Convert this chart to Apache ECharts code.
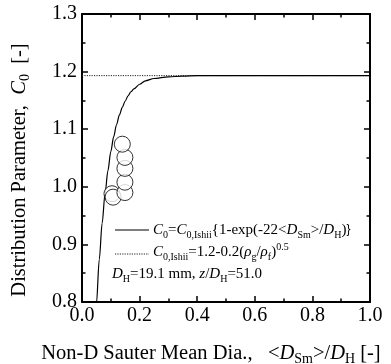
<!DOCTYPE html>
<html>
<head>
<meta charset="utf-8">
<script src="https://cdn.jsdelivr.net/npm/echarts@6/dist/echarts.min.js"></script>
<style>
  html, body { margin: 0; padding: 0; background: #fff; }
  #chart { width: 391px; height: 364px; }
</style>
</head>
<body>
<div id="chart"></div>
<script>
// Drift-flux correlation C0 = C0,Ishii {1 - exp(-22 <DSm>/DH)}
const corrX  = [0.04, 0.05, 0.06, 0.07, 0.08, 0.09, 0.10, 0.11, 0.12, 0.13, 0.14, 0.15, 0.16, 0.17, 0.18, 0.20, 0.22, 0.25, 0.30, 0.35, 0.40, 0.50, 1.00];
const corrC0 = [0.698, 0.796, 0.874, 0.937, 0.988, 1.028, 1.061, 1.087, 1.108, 1.125, 1.138, 1.149, 1.158, 1.165, 1.170, 1.178, 1.184, 1.188, 1.191, 1.192, 1.193, 1.193, 1.193];

// Ishii's constant distribution parameter
const ishiiX  = [0.0, 1.0];
const ishiiC0 = [1.193, 1.193];

// Measured points
const measX  = [0.104, 0.108, 0.149, 0.149, 0.149, 0.149, 0.140];
const measC0 = [0.988, 0.982, 0.990, 1.008, 1.032, 1.051, 1.074];

const serif = '"Liberation Serif", "Times New Roman", serif';

const zip = (xs, ys) => xs.map((x, i) => [x, ys[i]]);

const rich = (size) => ({
  i:   { fontFamily: serif, fontSize: size, fontStyle: 'italic', color: '#000', lineHeight: size + 5 },
  r:   { fontFamily: serif, fontSize: size, color: '#000', lineHeight: size + 5 },
  sub: { fontFamily: serif, fontSize: Math.round(size * 0.66), color: '#000', verticalAlign: 'bottom', lineHeight: Math.round(size * 0.66) },
  sup: { fontFamily: serif, fontSize: Math.round(size * 0.66), color: '#000', verticalAlign: 'top', lineHeight: Math.round(size * 0.66) }
});

const axisCommon = {
  type: 'value',
  axisLine: { show: true, onZero: false, lineStyle: { color: '#000', width: 2 } },
  axisTick: { show: true, inside: true, length: 6, lineStyle: { color: '#000', width: 1.5 } },
  minorTick: { show: true, splitNumber: 2, length: 3.5, lineStyle: { color: '#000', width: 1.5 } },
  splitLine: { show: false },
  minorSplitLine: { show: false }
};

const chart = echarts.init(document.getElementById('chart'), null, { renderer: 'canvas' });

chart.setOption({
  backgroundColor: '#fff',
  animation: false,
  grid: { left: 82, right: 21, top: 14, bottom: 62, containLabel: false },
  xAxis: [
    Object.assign({}, axisCommon, {
      min: 0, max: 1, interval: 0.2, position: 'bottom',
      axisLabel: { fontFamily: serif, fontSize: 20, color: '#000', margin: 4, formatter: v => v.toFixed(1) }
    }),
    Object.assign({}, axisCommon, {
      min: 0, max: 1, interval: 0.2, position: 'top',
      axisLabel: { show: false }
    })
  ],
  yAxis: [
    Object.assign({}, axisCommon, {
      min: 0.8, max: 1.3, interval: 0.1, position: 'left',
      axisLabel: { fontFamily: serif, fontSize: 20, color: '#000', margin: 5, formatter: v => v.toFixed(1) }
    }),
    Object.assign({}, axisCommon, {
      min: 0.8, max: 1.3, interval: 0.1, position: 'right',
      axisLabel: { show: false }
    })
  ],
  series: [
    {
      type: 'line',
      data: zip(ishiiX, ishiiC0),
      symbol: 'none',
      lineStyle: { color: '#222', width: 1, type: [1.2, 1.2] },
      z: 2
    },
    {
      type: 'line',
      data: zip(corrX, corrC0),
      symbol: 'none',
      smooth: 0.3,
      smoothMonotone: 'x',
      lineStyle: { color: '#000', width: 1.2 },
      clip: true,
      z: 3
    },
    {
      type: 'scatter',
      data: zip(measX, measC0),
      symbol: 'circle',
      symbolSize: 16,
      itemStyle: { color: '#fff', borderColor: '#000', borderWidth: 1 },
      z: 4
    }
  ],
  graphic: [
    // legend samples
    { type: 'line', shape: { x1: 115, y1: 230, x2: 149, y2: 230 }, style: { stroke: '#000', lineWidth: 1.2 } },
    { type: 'line', shape: { x1: 115, y1: 254, x2: 149, y2: 254 }, style: { stroke: '#222', lineWidth: 1, lineDash: [1.2, 1.2] } },
    {
      type: 'text', x: 153, y: 230,
      style: {
        text: '{i|C}{sub|0}{r|=}{i|C}{sub|0,Ishii}{r|{1-exp(-22<}{i|D}{sub|Sm}{r|>/}{i|D}{sub|H}{r|)}}',
        rich: rich(15), verticalAlign: 'middle', align: 'left'
      }
    },
    {
      type: 'text', x: 153, y: 252,
      style: {
        text: '{i|C}{sub|0,Ishii}{r|=1.2-0.2(}{i|ρ}{sub|g}{r|/}{i|ρ}{sub|f}{r|)}{sup|0.5}',
        rich: rich(15), verticalAlign: 'middle', align: 'left'
      }
    },
    {
      type: 'text', x: 112, y: 274,
      style: {
        text: '{i|D}{sub|H}{r|=19.1 mm, }{i|z}{r|/}{i|D}{sub|H}{r|=51.0}',
        rich: rich(15), verticalAlign: 'middle', align: 'left'
      }
    },
    // axis titles
    {
      type: 'text', x: 211, y: 354,
      style: {
        text: '{r|Non-D Sauter Mean Dia.,   <}{i|D}{sub|Sm}{r|>/}{i|D}{sub|H}{r| [-]}',
        rich: rich(20.5), verticalAlign: 'middle', align: 'center'
      }
    },
    {
      type: 'text', x: 20, y: 170, rotation: Math.PI / 2,
      style: {
        text: '{r|Distribution Parameter,  }{i|C}{sub|0}{r|  [-]}',
        rich: rich(20.5), verticalAlign: 'middle', align: 'center'
      }
    }
  ]
});
</script>
</body>
</html>
